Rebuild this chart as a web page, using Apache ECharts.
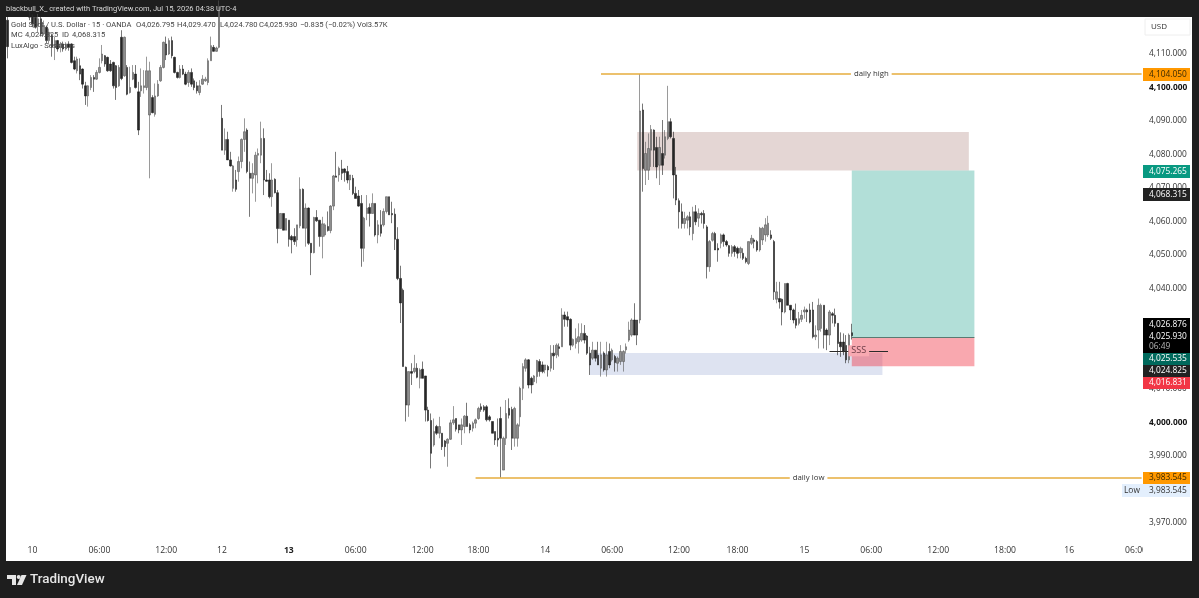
<!DOCTYPE html>
<html>
<head>
<meta charset="utf-8">
<style>html,body{margin:0;padding:0;background:#1e1e1e}#chart{width:1199px;height:598px}</style>
<script src="https://cdn.jsdelivr.net/npm/echarts@6/dist/echarts.min.js"></script>
</head>
<body>
<div id="chart"></div>
<script>
// XAUUSD 15-minute candles
const opens = [
4120.1,4123,4126,4127,4125,4126,4128,4125,4123,4122,
4121,4118.5,4120.5,4116,4118,4114,4115.5,4112,4114,4112,
4113,4111.5,4113,4113,4108,4105,4106.5,4105.5,4100.5,4097.5,
4100,4103,4102.5,4104.5,4108,4109.5,4109,4107,4107.5,4106.5,
4100.5,4115,4103.5,4106,4098.5,4102.5,4104,4098.7,4099,4100,
4100,4091.8,4097,4092,4097.5,4102,4106,4113,4110,4114,
4109,4104.5,4103,4105.5,4104,4101.5,4104.5,4102,4100.5,4098.5,
4101,4102,4101.5,4108,4112,4110.8,4112,4090.8,4081.3,4084.5,
4078.4,4069.9,4072.4,4074.9,4077.9,4084.5,4087.3,4074.4,4072.9,4073.9,
4079.8,4079.8,4084.8,4072.4,4072.4,4067.4,4072.6,4068.6,4057.9,4062.4,
4057.4,4060.4,4055.5,4055.5,4054.5,4058.7,4069.6,4058,4064,4053.5,
4050.7,4061.2,4060.4,4055.5,4056,4058.5,4057.3,4064.6,4073.6,4073.9,
4075.7,4075.7,4074.9,4072.4,4072.9,4068.4,4067.6,4065.4,4052,4062.4,
4064.2,4062.4,4065.4,4056,4059,4059,4063,4067.4,4062.4,4062.2,
4054.7,4043,4039.5,4016.5,4005.2,4015.2,4015.2,4016.2,4013.2,4015.9,
4013.9,4003.7,4000.6,3993.3,3998.8,3996.8,3996.8,3994.5,3993.8,3995,
3999.9,4001.2,3999.3,3997.8,3998.8,4001.9,3999.3,3998.3,3999.8,4001.2,
4004.7,4004.7,4004.7,4001.7,4000.3,3997.3,3995.3,4001.2,3985.8,3995.3,
4004.2,4003.9,3995.3,3995.3,4001.7,4010.2,4016.2,4018.7,4013.2,4012.2,
4013.7,4018.2,4017.2,4015.7,4016.7,4016.2,4020.7,4020.2,4022.6,4022.6,
4032.1,4031.6,4030.8,4023.1,4023.6,4024.1,4024.6,4026.6,4025.8,4020.7,
4019.2,4021.6,4020.1,4016.2,4020.7,4015.7,4021.2,4018.7,4019.7,4017.7,
4018.2,4018.2,4021.7,4024.6,4026.1,4030.6,4030.6,4030.6,4093.3,4075.3,
4075.3,4081.3,4087.3,4082.1,4076.8,4080.3,4079.8,4084.8,4089.8,4084.8,
4073.9,4066.2,4062.9,4059.4,4060.4,4061.4,4056.4,4062.9,4061,4062.4,
4062.4,4058.4,4046.5,4054.4,4056.4,4052,4053.5,4056,4054,4052.8,
4050.5,4052.5,4052,4050.7,4050.5,4049,4047.5,4053.5,4054.5,4054,
4051.5,4054.5,4056,4056,4056,4054,4036.8,4037,4036.8,4033,
4041.5,4035,4033.6,4031,4029.6,4030.8,4033,4033.6,4033.6,4033.6,
4025.6,4027.6,4028.1,4035,4027.6,4026.1,4032.5,4032,4029.6,4024,
4024,4023,4018.7,4026.795];
const closes = [
4112.2,4127,4127,4125,4126,4128,4125,4124,4121,4119,
4118,4120.5,4116,4118.5,4114,4116.5,4112,4114,4111.5,4113,
4111.5,4113,4112,4107.5,4105.5,4108.5,4104,4101,4097.5,4100.5,
4103,4102.5,4104.5,4106,4110,4107,4105,4105,4100.5,4100,
4106,4102.7,4115,4098,4100,4104.5,4100,4087.3,4100.5,4100.5,
4105,4105,4092.5,4097.5,4101,4106,4113.5,4109.7,4114,4109.5,
4104.5,4103,4105.5,4104,4101,4104.5,4101,4100,4099,4100.5,
4102.5,4102.5,4108,4112.5,4110.8,4111.8,4124,4081.3,4084.5,4078.4,
4076.6,4076.6,4069.6,4077.9,4084.5,4086.8,4074.9,4072.9,4074.4,4079.8,
4080.3,4084.8,4072.4,4072,4067.4,4072.4,4068.6,4057.9,4062.4,4057.4,
4060.9,4054.7,4054.5,4054,4059,4069.6,4058,4064,4053.5,4050.7,
4061.2,4060.2,4055.5,4059.3,4059,4057.3,4064.6,4073.6,4073.2,4075.9,
4074.4,4074.6,4072.4,4073.9,4068.4,4066.9,4064.6,4052,4061,4064,
4062.4,4065.4,4056,4059,4056.5,4063,4067.4,4062,4062,4054.7,
4043,4035.7,4016.7,4005.2,4015.2,4014.7,4016.2,4013.5,4015.7,4013.2,
4003.7,4000.6,3990.8,3997.3,3996.8,3998.8,3992.8,3992.8,3995,3999.9,
4000.8,3998,3997.8,3999.3,4001.9,3998.8,3997.8,3999.8,4000.8,4004.2,
4003.9,4003.7,4000.8,4000.8,3996.8,3994.8,3994.8,3995.3,3995.3,4002.7,
4002.2,3995.3,4004.2,3999.3,4010.2,4016.7,4018.7,4011.2,4011.2,4013.9,
4018.5,4015.2,4015.2,4017.2,4015.7,4020.7,4019.9,4023.1,4022.1,4032.1,
4030.8,4030.6,4023.1,4024.8,4025.1,4025.6,4026.6,4024.6,4020.7,4017.2,
4021.6,4019.2,4017.2,4020.2,4015.7,4020.2,4017.2,4021.6,4017.9,4019.2,
4021.2,4021.2,4022.6,4027.6,4030.6,4026.1,4026.1,4093,4075.8,4080.3,
4081.8,4087.5,4081.3,4076.3,4082.1,4076.8,4085.3,4089.8,4085.3,4073.9,
4066.4,4062.9,4059.4,4060.9,4061.4,4058.4,4062.9,4059.9,4062.4,4062,
4059.4,4046.5,4054,4056.4,4051.5,4051.5,4056,4054,4053,4050.5,
4052.5,4051,4050.5,4052,4049,4048,4054,4055,4054,4051.5,
4058,4058,4059,4059.5,4055,4039,4039,4036,4033,4041.5,
4035,4033.6,4030.6,4029,4031,4032,4033.6,4033,4030,4025.6,
4026.1,4035,4035,4026.1,4026.1,4033,4032,4029.6,4023.6,4022.6,
4021.1,4018.7,4026.1,4025.93];
const lows = [
4108.7,4122,4124,4123,4123.5,4125,4124,4122.5,4120.1,4118,
4117.6,4116.5,4115.2,4115.6,4113.2,4113,4109.2,4108.2,4110.7,4110.5,
4110.7,4111,4111,4107.2,4105.2,4104.2,4102.2,4099.7,4094.8,4094.3,
4099.2,4098.7,4102.3,4104.2,4107.2,4106.2,4104.7,4104.7,4099.7,4096.3,
4100.2,4102.2,4103.2,4097.7,4098.2,4102.2,4099.7,4085.8,4097.2,4098.2,
4099.2,4072.9,4092.3,4091.3,4097.2,4101.7,4105.7,4108.2,4109.7,4108.7,
4104.2,4102.7,4102.7,4103.7,4100.7,4100.2,4100.2,4099.2,4098.2,4097.7,
4100.8,4101.7,4100.7,4108,4110.7,4110.7,4111.7,4081.3,4079.9,4078.4,
4076.4,4068.9,4068.9,4071.9,4075.9,4080.8,4074.4,4061.4,4068.4,4065.9,
4071.4,4077.4,4067.9,4071.9,4066.9,4064.4,4068.4,4053.5,4057.9,4057.4,
4057.4,4052.5,4050.5,4053,4052.5,4058,4058,4052.5,4053,4044,
4050.5,4059.9,4052.5,4049,4055.5,4057,4056.5,4063.4,4073.2,4071.9,
4072.4,4071.9,4071.4,4069.4,4067.9,4066.9,4064.4,4046.5,4048,4060.4,
4058.5,4062.4,4055.5,4053.5,4055.5,4058.5,4062.4,4062,4059.5,4051.5,
4042.5,4029.7,4016.7,4000.3,4001.7,4011.2,4014.7,4013.2,4010.2,4013.2,
4000.3,4000.3,3986.3,3992.8,3996.3,3995.3,3991.8,3989.8,3986.8,3994.8,
3999.3,3997.3,3996.8,3993.3,3996.8,3998.8,3996.8,3997.3,3998.3,4000.8,
4003.2,4003.2,4000.3,4000.3,3996.8,3993.3,3992.8,3983.545,3985.8,3993.3,
4001.2,3991.8,3992.8,3992.8,3998.8,4006.7,4015.2,4010.2,4008.7,4011.2,
4011.7,4013.7,4014.7,4014.7,4013.7,4015.2,4015.7,4019.2,4019.7,4022.6,
4028.6,4028.6,4021.6,4022.6,4022.1,4020.6,4024.1,4023.6,4020.2,4014.2,
4018.7,4018.2,4017.2,4013.7,4015.2,4013.7,4016.2,4018.2,4015.2,4015.2,
4017.2,4015.2,4020.6,4024.1,4025.6,4026.1,4023.1,4029.6,4068.9,4070.9,
4072.4,4076.3,4076.3,4072.9,4070.9,4073.9,4078.8,4084.3,4084.8,4066.9,
4064.9,4057.9,4057.9,4057.9,4057.9,4055.9,4054.4,4058.9,4058.4,4059.4,
4057.9,4043,4045,4054,4051.5,4048,4052,4052.5,4052.5,4049.5,
4049.5,4049.5,4049,4049,4048.5,4047.5,4047,4053,4052,4051,
4051,4053,4054,4055.4,4054.5,4036.6,4035.6,4034,4029,4032.6,
4035,4030.6,4029.6,4028.1,4029,4030,4031,4030,4029.6,4025.1,
4024.6,4022.1,4027.1,4022.1,4021.6,4023.1,4029.6,4028.6,4020.1,4019.6,
4020.1,4017.7,4017.7,4024.78];
const highs = [
4124,4129,4130,4129,4128,4130,4129,4126,4125,4124,
4123,4122,4122,4120,4118.5,4117.6,4116.1,4115.2,4114.2,4113.6,
4113.7,4113.5,4113.8,4113.2,4109.2,4109.2,4108.7,4105.7,4101.7,4100.7,
4103.7,4103.7,4105.2,4108.7,4112.7,4109.7,4109.2,4108.2,4107.7,4106.7,
4106.7,4117.1,4115.2,4106.7,4106.2,4106.7,4106.7,4101.7,4105.7,4105.2,
4109.2,4107.7,4097.7,4101.2,4102.2,4106.7,4113.7,4115.2,4114.7,4115.2,
4109.2,4104.7,4106.7,4106.7,4104.7,4105.2,4105.7,4102.7,4101.7,4102.2,
4103.7,4103.2,4108.7,4115.2,4112.7,4112.2,4126,4094.8,4087.8,4086.8,
4080.8,4076.9,4075.4,4079.4,4084.8,4090.8,4087.8,4077.9,4077.4,4080.8,
4081.8,4089.8,4087.8,4075.4,4074.4,4077.4,4072.9,4069.4,4062.4,4062.4,
4060.9,4060.4,4056,4058,4059,4073.2,4069.9,4065.4,4064.2,4053.5,
4061.4,4063.4,4060.4,4061.4,4059.5,4063,4064.9,4073.9,4080.8,4076.4,
4078.4,4075.9,4076.6,4073.9,4073.9,4070.4,4069.4,4067.9,4061.4,4067.9,
4065.4,4068.4,4065.4,4060.4,4063.4,4063.9,4067.4,4067.4,4065.9,4063.9,
4058.3,4046.8,4040,4016.7,4015.2,4017.7,4020.2,4017.7,4016.2,4018.2,
4013.9,4004.7,4002.7,4001.2,3999.3,4001.7,3996.8,3994.8,3995.3,4000.8,
4004.9,4001.2,3999.3,4001.2,4002.2,4005.9,3999.8,4000.3,4001.2,4004.7,
4005.7,4005.2,4005.2,4002.2,4000.3,3997.3,4001.2,4004.7,3995.8,4006.7,
4007.2,4004.7,4004.7,3999.8,4010.7,4017.7,4019.2,4018.9,4013.7,4014.2,
4018.7,4018.9,4018.2,4017.2,4017.2,4023.1,4023.1,4023.6,4023.6,4034.1,
4033.1,4033.1,4031.1,4025.1,4028.1,4029.6,4029.6,4029.1,4026.1,4022.6,
4024.1,4021.6,4024.1,4024.1,4021.2,4024.1,4023.6,4022.1,4020.2,4019.7,
4023.1,4021.6,4023.6,4030.1,4031.1,4035.6,4030.6,4104.05,4095.2,4083.8,
4086.3,4088.8,4087.5,4085.3,4085.3,4090.3,4087.3,4100.5,4090.8,4086.8,
4076.3,4066.9,4065.4,4062.9,4061.9,4062.9,4064.4,4064.9,4063.9,4062.9,
4063.4,4058.9,4054.5,4056.9,4056.9,4053.5,4056.4,4056.4,4054.5,4053,
4053,4053,4052.5,4052.5,4052,4049.5,4054,4056,4055,4054.5,
4058.4,4058.4,4061,4061.7,4057.4,4054.5,4042,4042,4037,4041.5,
4041.7,4035,4034,4035.5,4033,4033.6,4034.6,4034,4035.5,4036,
4029,4037,4035.5,4035,4028.1,4033.6,4033,4034,4029.6,4026.9,
4026.6,4026.1,4026.6,4029.47];

// Bars on the time scale, including the empty space to the right of the last candle
const barCount = 408;
const tickBars = [9, 33, 57, 77, 101, 125, 149, 169, 193, 217, 241, 262, 286, 310, 334, 358, 381, 405];
const tickTexts = ['10', '06:00', '12:00', '12', '13', '06:00', '12:00', '18:00', '14', '06:00', '12:00', '18:00', '15', '06:00', '12:00', '18:00', '16', '06:00'];
const priceTicks = [3970, 3990, 4000, 4010, 4040, 4050, 4060, 4070, 4080, 4090, 4100, 4110];
const boldPrices = [4000, 4100];

// Drawn levels
const dailyHigh = 4104.05, dailyLow = 3983.545;
const takeProfit = 4075.265, entry = 4025.535, stopLoss = 4016.831;
const supplyTop = 4086.7, demandTop = 4020.75, demandBottom = 4014.2, sweepLevel = 4021.4;

const categories = new Array(barCount).fill('');
tickBars.forEach((b, i) => { categories[b] = tickTexts[i]; });
const candles = opens.map((o, i) => [o, closes[i], lows[i], highs[i]]);

const FONT = '"Open Sans", sans-serif';
const ink = '#333333';

function area(x0, x1, top, bottom, color) {
  return [{ xAxis: x0, yAxis: top, itemStyle: { color } }, { xAxis: x1, yAxis: bottom }];
}
function level(x0, x1, price, color, width, text, textColor, textBg, textSize) {
  return [
    { coord: [x0, price], lineStyle: { color, width, type: 'solid' },
      label: text ? { show: true, position: 'insideMiddle', distance: 0, formatter: text, color: textColor, fontFamily: FONT,
                      fontSize: textSize, backgroundColor: textBg, padding: [1, 3] } : { show: false } },
    { coord: [x1, price] }
  ];
}

// Price tags stacked on the right axis
const priceTags = [
  { y: 68, h: 13, bg: '#ff9800', fg: '#3b2a00', text: '4,104.050' },
  { y: 165, h: 13, bg: '#089981', fg: '#fff', text: '4,075.265' },
  { y: 188, h: 13, bg: '#222222', fg: '#fff', text: '4,068.315' },
  { y: 318, h: 35, bg: '#000000', fg: '#fff', text: '' },
  { y: 318, h: 13, bg: '#000000', fg: '#fff', text: '4,026.876' },
  { y: 330, h: 13, bg: '#000000', fg: '#fff', text: '4,025.930' },
  { y: 340, h: 13, bg: '#000000', fg: '#b5b5b5', text: '06:49' },
  { y: 353, h: 12, bg: '#00695c', fg: '#fff', text: '4,025.535' },
  { y: 365, h: 12, bg: '#222222', fg: '#fff', text: '4,024.825' },
  { y: 377, h: 12, bg: '#f23645', fg: '#fff', text: '4,016.831' },
  { y: 472, h: 12, bg: '#ff9800', fg: '#3b2a00', text: '3,983.545' }
];
// Symbol legend: each field sits at its own column
const legendFields = [
  { text: 'Gold Spot / U.S. Dollar · 15 · OANDA', x: 11, y: 25 },
  { text: 'O4,026.795', x: 136, y: 25 },
  { text: 'H4,029.470', x: 177, y: 25 },
  { text: 'L4,024.780', x: 220, y: 25 },
  { text: 'C4,025.930', x: 259, y: 25 },
  { text: '−0.835 (−0.02%)', x: 300, y: 25 },
  { text: 'Vol3.57K', x: 357, y: 25 },
  { text: 'MC', x: 11, y: 35.5 },
  { text: '4,024.825', x: 25, y: 35.5 },
  { text: 'ID', x: 62, y: 35.5 },
  { text: '4,068.315', x: 72, y: 35.5 },
  { text: 'LuxAlgo - Sessions', x: 11, y: 46 }
];

const graphics = [
  { type: 'rect', z: -1, shape: { x: 6, y: 17, width: 1186, height: 544 }, style: { fill: '#ffffff' } },
  { type: 'rect', z: 50, shape: { x: 1143, y: 541, width: 49, height: 20 }, style: { fill: '#ffffff' } },
  { type: 'text', z: 60, x: 6, y: 9, style: { text: 'blackbull_X_ created with TradingView.com, Jul 15, 2026 04:38 UTC-4', fill: '#d8d8d8', font: '7.5px Roboto, ' + FONT, textVerticalAlign: 'middle' } },
  { type: 'rect', z: 60, shape: { x: 1145, y: 19, width: 45, height: 16 }, style: { fill: '#fff', stroke: '#eeeeee', lineWidth: 1 } },
  { type: 'text', z: 61, x: 1151, y: 27, style: { text: 'USD', fill: ink, font: '8px ' + FONT, textVerticalAlign: 'middle' } },
  // Low badge under the daily low tag
  { type: 'rect', z: 60, shape: { x: 1122, y: 484, width: 68, height: 13 }, style: { fill: '#e3effd' } },
  { type: 'text', z: 61, x: 1124, y: 491, style: { text: 'Low', fill: ink, font: '8.4px ' + FONT, textVerticalAlign: 'middle' } },
  { type: 'text', z: 61, x: 1149, y: 491, style: { text: '3,983.545', fill: ink, font: '8.4px ' + FONT, textVerticalAlign: 'middle' } },
  // Brand mark in the footer
  { type: 'polygon', z: 60, shape: { points: [[7, 575], [16, 575], [16, 585], [12, 585], [12, 579], [7, 579]] }, style: { fill: '#e6e6e6' } },
  { type: 'circle', z: 60, shape: { cx: 18.7, cy: 577, r: 2 }, style: { fill: '#e6e6e6' } },
  { type: 'polygon', z: 60, shape: { points: [[21.5, 575], [26.5, 575], [22, 585], [17, 585]] }, style: { fill: '#e6e6e6' } },
  { type: 'text', z: 60, x: 30, y: 579.5, style: { text: 'TradingView', fill: '#e6e6e6', font: '500 13.4px Roboto, ' + FONT, textVerticalAlign: 'middle' } }
];
legendFields.forEach(f => {
  graphics.push({ type: 'text', z: 40, x: f.x, y: f.y, style: { text: f.text, fill: '#444444', font: '7.6px Roboto, ' + FONT, textVerticalAlign: 'middle' } });
});
priceTags.forEach(tag => {
  graphics.push({ type: 'rect', z: 70, shape: { x: 1143, y: tag.y, width: 47, height: tag.h }, style: { fill: tag.bg } });
  if (tag.text) {
    graphics.push({ type: 'text', z: 71, x: 1149, y: tag.y + tag.h / 2, style: { text: tag.text, fill: tag.fg, font: '8.4px ' + FONT, textVerticalAlign: 'middle' } });
  }
});

const chart = echarts.init(document.getElementById('chart'), null, { renderer: 'canvas' });
chart.setOption({
  animation: false,
  backgroundColor: '#1e1e1e',
  graphic: { elements: graphics },
  grid: { left: 6, right: 56, top: 17, height: 523, containLabel: false },
  xAxis: {
    type: 'category',
    data: categories,
    boundaryGap: true,
    axisLine: { show: false },
    axisTick: { show: false },
    splitLine: { show: false },
    axisLabel: {
      interval: 0,
      margin: 6,
      color: ink,
      fontFamily: FONT,
      fontSize: 8.6,
      formatter: v => (v === '13' ? '{b|13}' : v),
      rich: { b: { fontWeight: 'bold', fontSize: 8.6, color: '#222', fontFamily: FONT } }
    }
  },
  yAxis: {
    type: 'value',
    position: 'right',
    min: 3964.93,
    max: 4121.05,
    axisLine: { show: false },
    axisTick: { show: false },
    splitLine: { show: false },
    axisLabel: {
      customValues: priceTicks,
      margin: 6,
      color: ink,
      fontFamily: FONT,
      fontSize: 8.4,
      formatter: v => {
        const text = v.toLocaleString('en-US', { minimumFractionDigits: 3, maximumFractionDigits: 3 });
        return boldPrices.includes(v) ? '{b|' + text + '}' : text;
      },
      rich: { b: { fontWeight: 'bold', fontSize: 8.4, color: '#111', fontFamily: FONT } }
    }
  },
  series: [{
    type: 'candlestick',
    data: candles,
    barWidth: 2,
    itemStyle: { color: '#8f8f8f', color0: '#262626', borderColor: '#555555', borderColor0: '#1c1c1c', borderWidth: 0.6 },
    markArea: {
      silent: true,
      data: [
        area(226, 345, supplyTop, takeProfit, 'rgba(120,50,40,0.2)'),
        area(209, 314, demandTop, demandBottom, 'rgba(60,90,170,0.17)'),
        area(303, 347, takeProfit, entry, 'rgba(8,153,129,0.31)'),
        area(303, 347, entry, stopLoss, 'rgba(242,54,69,0.43)')
      ]
    },
    markLine: {
      silent: true,
      symbol: ['none', 'none'],
      data: [
        level(213, 407, dailyHigh, '#e6ad3c', 1.5, 'daily high', '#333', '#ffffff', 7.8),
        level(168, 407, dailyLow, '#e6ad3c', 1.5, 'daily low', '#333', '#ffffff', 7.8),
        level(303, 347, entry, '#5a7a72', 1.2),
        level(295, 316, sweepLevel, '#2a2a2a', 1.2, 'SSS', '#6b3a44', '#f8a9b1', 9)
      ]
    }
  }]
});
</script>
</body>
</html>
